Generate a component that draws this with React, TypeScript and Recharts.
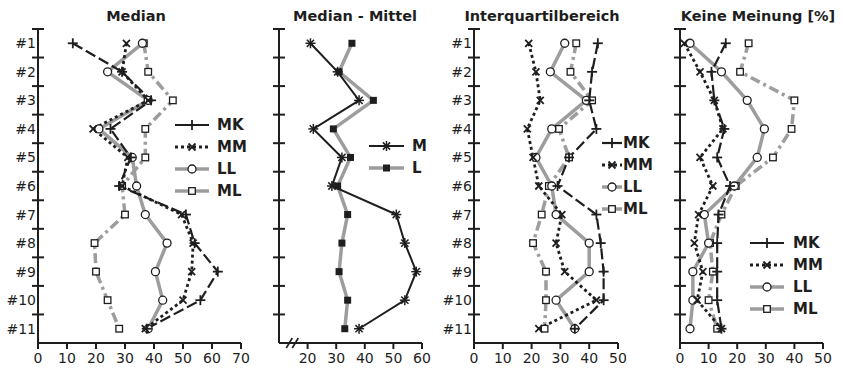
import React from "react";
import { Legend, Line, LineChart, XAxis, YAxis } from "recharts";

const categories = ["#1", "#2", "#3", "#4", "#5", "#6", "#7", "#8", "#9", "#10", "#11"];

// Median
const medianMK = [12, 29, 39, 25, 32, 28, 51, 54, 62, 56, 37.5];
const medianMM = [30.5, 29, 38, 19, 31, 29, 49.5, 53.5, 53, 50, 37];
const medianLL = [36, 24, 38, 21, 32.5, 34, 37, 44.5, 40.5, 43, 38];
const medianML = [36.5, 38, 46.5, 37, 37, 29, 30, 19.5, 20, 24, 28];

// Median - Mittel
const diffM = [21, 30.5, 38, 22, 32, 28.5, 51, 54, 58, 54, 38];
const diffL = [35.5, 31, 43, 29, 35, 30.5, 34, 32, 31, 34, 33];

// Interquartilbereich
const iqrMK = [43, 41, 40, 42.5, 33, 29, 42.5, 44, 45, 45, 35];
const iqrMM = [19, 21.5, 23, 18.5, 20.5, 22.5, 30.5, 28.5, 31.5, 42.5, 22.5];
const iqrLL = [31.5, 26.5, 39, 27, 21.5, 27, 28.5, 40, 40, 28.5, 35];
const iqrML = [35.5, 33.5, 41, 29.5, 33, 26, 23.5, 20.5, 25, 25, 24.5];

// Keine Meinung [%]
const noOpMK = [16, 11, 12, 15.5, 13, 17.5, 13.5, 13, 13, 13, 14.5];
const noOpMM = [1.5, 7, 12, 15, 7, 11.5, 6.5, 5, 8, 6, 14.5];
const noOpLL = [3.5, 14.5, 23.5, 29.5, 27, 19, 8.5, 10, 4.5, 4.5, 3.5];
const noOpML = [24, 21, 40, 39, 32.5, 19.5, 14.5, 10.5, 11.5, 10, 13];

const INK = "#1e1e1e";
const GREY = "#9d9d9d";
const FONT = "DejaVu Sans, Verdana, sans-serif";

const PLOT_TOP = 29;
const PLOT_BOTTOM = 343;
const BAND = (PLOT_BOTTOM - PLOT_TOP) / categories.length;

type MarkerKind = "plus" | "cross" | "circle" | "square" | "star" | "block";

type Series = {
  key: string;
  name: string;
  color: string;
  width: number;
  dash?: string;
  marker: MarkerKind;
};

const four: Series[] = [
  { key: "MK", name: "MK", color: INK, width: 2.2, dash: "11 4", marker: "plus" },
  { key: "MM", name: "MM", color: INK, width: 2.8, dash: "3 3", marker: "cross" },
  { key: "LL", name: "LL", color: GREY, width: 3.5, marker: "circle" },
  { key: "ML", name: "ML", color: GREY, width: 3.5, dash: "10 4 3 4", marker: "square" },
];

const two: Series[] = [
  { key: "M", name: "M", color: INK, width: 2, marker: "star" },
  { key: "L", name: "L", color: GREY, width: 3.5, marker: "block" },
];

function build(cols: Record<string, number[]>) {
  return categories.map((cat, i) => {
    const row: Record<string, string | number> = { cat };
    Object.keys(cols).forEach((k) => {
      row[k] = cols[k][i];
    });
    return row;
  });
}

function Marker({ kind, cx, cy }: { kind: MarkerKind; cx: number; cy: number }) {
  switch (kind) {
    case "plus":
      return (
        <g stroke={INK} strokeWidth={1.8}>
          <line x1={cx - 5} x2={cx + 5} y1={cy} y2={cy} />
          <line x1={cx} x2={cx} y1={cy - 5} y2={cy + 5} />
        </g>
      );
    case "cross":
      return (
        <g stroke={INK} strokeWidth={1.8}>
          <line x1={cx - 3.5} x2={cx + 3.5} y1={cy - 3.5} y2={cy + 3.5} />
          <line x1={cx - 3.5} x2={cx + 3.5} y1={cy + 3.5} y2={cy - 3.5} />
        </g>
      );
    case "circle":
      return <circle cx={cx} cy={cy} r={4} fill="#fff" stroke={INK} strokeWidth={1.3} />;
    case "square":
      return <rect x={cx - 3.3} y={cy - 3.3} width={6.6} height={6.6} fill="#fff" stroke={INK} strokeWidth={1.3} />;
    case "star":
      return (
        <g stroke={INK} strokeWidth={1.5}>
          <line x1={cx - 5} x2={cx + 5} y1={cy} y2={cy} />
          <line x1={cx} x2={cx} y1={cy - 5} y2={cy + 5} />
          <line x1={cx - 3.6} x2={cx + 3.6} y1={cy - 3.6} y2={cy + 3.6} />
          <line x1={cx - 3.6} x2={cx + 3.6} y1={cy + 3.6} y2={cy - 3.6} />
        </g>
      );
    default:
      return <rect x={cx - 3.5} y={cy - 3.5} width={7} height={7} fill={INK} />;
  }
}

function CategoryTick(props: any) {
  const { x, y, payload, showLabel } = props;
  const ax = x + 2;
  return (
    <g>
      <line x1={ax - 6} x2={ax + 6} y1={y - BAND / 2} y2={y - BAND / 2} stroke={INK} strokeWidth={2} />
      {showLabel && (
        <text x={x} y={y} dy="0.36em" textAnchor="end" fill={INK} fontSize={14} fontFamily={FONT}>
          {payload.value}
        </text>
      )}
    </g>
  );
}

function ValueTick(props: any) {
  const { x, y, payload } = props;
  const axisY = y - 10;
  if (payload.value === 15) {
    return (
      <g stroke={INK} strokeWidth={1.6}>
        <line x1={x - 7} x2={x - 1} y1={axisY + 5} y2={axisY - 5} />
        <line x1={x - 1} x2={x + 5} y1={axisY + 5} y2={axisY - 5} />
      </g>
    );
  }
  return (
    <g>
      <line x1={x} x2={x} y1={axisY} y2={axisY + 6} stroke={INK} strokeWidth={2} />
      <text x={x} y={y} dy="0.71em" textAnchor="middle" fill={INK} fontSize={14} fontFamily={FONT}>
        {payload.value}
      </text>
    </g>
  );
}

function LegendRows({ series, sample, gap }: { series: Series[]; sample: number; gap: number }) {
  return (
    <div>
      {series.map((s) => (
        <div key={s.key} style={{ display: "flex", alignItems: "center", height: 22 }}>
          <svg width={sample} height={22} style={{ display: "block" }}>
            <line
              x1={0}
              x2={sample}
              y1={11}
              y2={11}
              stroke={s.color}
              strokeWidth={s.width}
              strokeDasharray={s.key === "MM" ? "3 3" : undefined}
            />
            <Marker kind={s.marker} cx={sample / 2} cy={11} />
          </svg>
          <span
            style={{
              marginLeft: gap,
              fontFamily: FONT,
              fontWeight: "bold",
              fontSize: 15,
              color: INK,
              lineHeight: "22px",
            }}
          >
            {s.name}
          </span>
        </div>
      ))}
    </div>
  );
}

type PanelProps = {
  left: number;
  width: number;
  axisWidth: number;
  marginRight: number;
  domain: [number, number];
  ticks: number[];
  showLabels: boolean;
  series: Series[];
  data: Record<string, string | number>[];
  legend: { left: number; top: number; sample: number; gap: number };
};

function Panel({ left, width, axisWidth, marginRight, domain, ticks, showLabels, series, data, legend }: PanelProps) {
  const drawOrder = [...series].reverse();
  return (
    <div style={{ position: "absolute", left, top: 0 }}>
      <LineChart
        width={width}
        height={371}
        data={data}
        layout="vertical"
        margin={{ top: PLOT_TOP, right: marginRight, bottom: 0, left: 0 }}
      >
        <XAxis
          type="number"
          domain={domain}
          ticks={ticks}
          interval={0}
          allowDataOverflow
          height={371 - PLOT_BOTTOM}
          tickSize={6}
          tickMargin={4}
          tickLine={false}
          axisLine={{ stroke: INK, strokeWidth: 2 }}
          tick={<ValueTick />}
        />
        <YAxis
          type="category"
          dataKey="cat"
          scale="band"
          width={axisWidth}
          interval={0}
          tickSize={0}
          tickMargin={2}
          tickLine={false}
          axisLine={{ stroke: INK, strokeWidth: 2 }}
          tick={<CategoryTick showLabel={showLabels} />}
        />
        {drawOrder.map((s) => (
          <Line
            key={s.key}
            dataKey={s.key}
            name={s.name}
            stroke={s.color}
            strokeWidth={s.width}
            strokeDasharray={s.dash}
            isAnimationActive={false}
            dot={(p: any) => (
              <g key={`${s.key}-${p.index}`}>
                <Marker kind={s.marker} cx={p.cx} cy={p.cy} />
              </g>
            )}
            activeDot={false}
          />
        ))}
        <Legend
          layout="vertical"
          align="center"
          verticalAlign="middle"
          wrapperStyle={{ left: legend.left, top: legend.top, width: 80, height: series.length * 22 }}
          content={() => <LegendRows series={series} sample={legend.sample} gap={legend.gap} />}
        />
      </LineChart>
    </div>
  );
}

const titles = [
  { text: "Median", x: 136 },
  { text: "Median - Mittel", x: 355 },
  { text: "Interquartilbereich", x: 542 },
  { text: "Keine Meinung [%]", x: 758 },
];

export default function App() {
  return (
    <div style={{ position: "absolute", left: 0, top: 0, width: 843, height: 371, background: "#fff" }}>
      <Panel
        left={0}
        width={262}
        axisWidth={38}
        marginRight={21}
        domain={[0, 70]}
        ticks={[0, 10, 20, 30, 40, 50, 60, 70]}
        showLabels
        series={four}
        data={build({ MK: medianMK, MM: medianMM, LL: medianLL, ML: medianML })}
        legend={{ left: 175, top: 114, sample: 34, gap: 8 }}
      />
      <Panel
        left={262}
        width={170}
        axisWidth={17}
        marginRight={10}
        domain={[10, 60]}
        ticks={[15, 20, 30, 40, 50, 60]}
        showLabels={false}
        series={two}
        data={build({ M: diffM, L: diffL })}
        legend={{ left: 107, top: 135, sample: 35, gap: 8 }}
      />
      <Panel
        left={430}
        width={200}
        axisWidth={44}
        marginRight={12}
        domain={[0, 50]}
        ticks={[0, 10, 20, 30, 40, 50]}
        showLabels
        series={four}
        data={build({ MK: iqrMK, MM: iqrMM, LL: iqrLL, ML: iqrML })}
        legend={{ left: 172, top: 132, sample: 20, gap: 1 }}
      />
      <Panel
        left={640}
        width={203}
        axisWidth={40}
        marginRight={20}
        domain={[0, 50]}
        ticks={[0, 10, 20, 30, 40, 50]}
        showLabels={false}
        series={four}
        data={build({ MK: noOpMK, MM: noOpMM, LL: noOpLL, ML: noOpML })}
        legend={{ left: 110, top: 232, sample: 34, gap: 9 }}
      />
      <svg width={843} height={371} style={{ position: "absolute", left: 0, top: 0, pointerEvents: "none" }}>
        {titles.map((t) => (
          <text
            key={t.text}
            x={t.x}
            y={21}
            textAnchor="middle"
            fontFamily={FONT}
            fontWeight="bold"
            fontSize={14.5}
            fill={INK}
          >
            {t.text}
          </text>
        ))}
      </svg>
    </div>
  );
}
